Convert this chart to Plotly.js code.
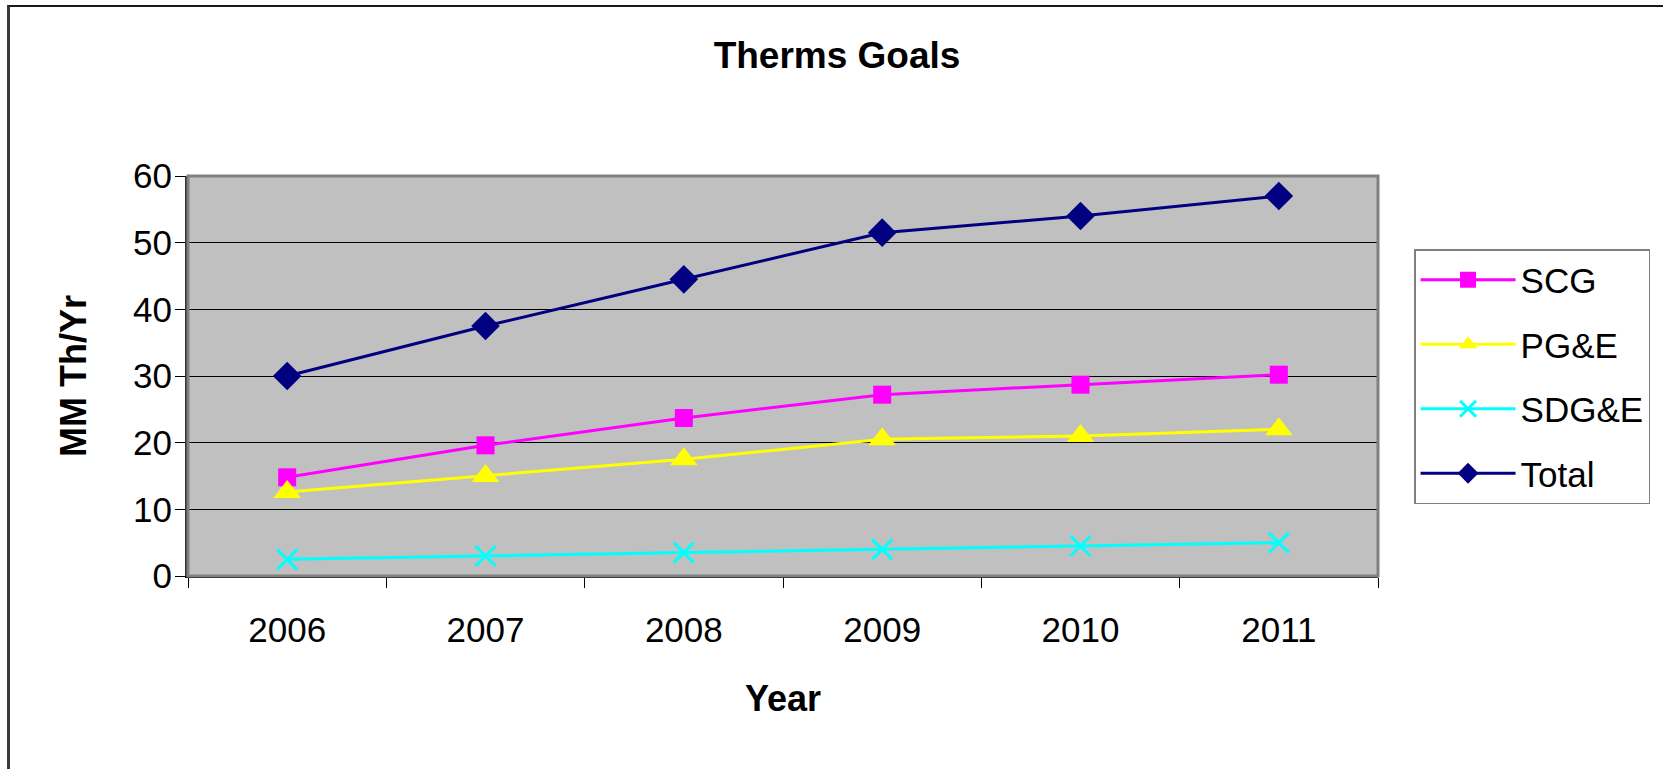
<!DOCTYPE html>
<html>
<head>
<meta charset="utf-8">
<script src="https://cdn.plot.ly/plotly-3.0.1.min.js"></script>
<style>
  html, body { margin: 0; padding: 0; background: #fff; }
  #wrap { position: relative; width: 1663px; height: 769px; overflow: hidden; }
  #chart { position: absolute; left: 0; top: 0; width: 1663px; height: 769px; }
  #frame { position: absolute; left: 7px; top: 5px; width: 1700px; height: 800px;
           border-top: 2px solid #1a1a1a; border-left: 3px solid #3a3a3a; pointer-events: none; }
</style>
</head>
<body>
<div id="wrap">
  <div id="chart"></div>
  <div id="frame"></div>
</div>
<script>
const years = ['2006', '2007', '2008', '2009', '2010', '2011'];
const scg   = [14.8, 19.6, 23.7, 27.2, 28.7, 30.2];
const pge   = [12.6, 15.0, 17.5, 20.5, 21.0, 22.0];
const sdge  = [2.5, 3.0, 3.5, 4.0, 4.5, 5.0];
const total = [30.0, 37.5, 44.5, 51.5, 54.0, 57.0];

const FONT = 'Liberation Sans, Arial, sans-serif';

const traces = [
  { name: 'SCG', x: years, y: scg, type: 'scatter', mode: 'lines+markers', legendgroup: 'a',
    line: { color: '#FF00FF', width: 3 }, marker: { symbol: 'square', size: 18, color: '#FF00FF' } },
  { name: 'PG&E', x: years, y: pge, type: 'scatter', mode: 'lines+markers', legendgroup: 'b',
    line: { color: '#FFFF00', width: 3 }, marker: { symbol: 'triangle-up', size: 24, color: '#FFFF00' } },
  { name: 'SDG&E', x: years, y: sdge, type: 'scatter', mode: 'lines+markers', legendgroup: 'c',
    line: { color: '#00FFFF', width: 3 }, marker: { symbol: 'x-thin', size: 20, color: '#00FFFF', line: { color: '#00FFFF', width: 3 } } },
  { name: 'Total', x: years, y: total, type: 'scatter', mode: 'lines+markers', legendgroup: 'd',
    line: { color: '#000080', width: 3 }, marker: { symbol: 'diamond', size: 22, color: '#000080' } }
];

const layout = {
  width: 1663, height: 769,
  margin: { l: 188, r: 285, t: 176, b: 193, autoexpand: false },
  paper_bgcolor: 'rgba(0,0,0,0)',
  plot_bgcolor: '#C0C0C0',
  font: { family: FONT, color: '#000', size: 35 },
  title: { text: '<b>Therms Goals</b>', font: { family: FONT, size: 37, color: '#000' },
           xref: 'paper', x: 0.5454, xanchor: 'center', yref: 'container', y: 0.928, yanchor: 'middle' },
  xaxis: {
    type: 'category', range: [-0.5, 5.5], tickson: 'boundaries', ticks: 'outside', ticklen: 10, tickcolor: '#000', tickwidth: 1,
    showgrid: false, showline: true, linecolor: '#000', linewidth: 2, automargin: false,
    ticklabelstandoff: 22,
    tickfont: { family: FONT, size: 35, color: '#000' },
    title: { text: '<b>Year</b>', font: { family: FONT, size: 36, color: '#000' }, standoff: 38 }
  },
  yaxis: {
    range: [0, 60], dtick: 10, tick0: 0, ticks: 'outside', ticklen: 10, tickcolor: '#000', tickwidth: 1,
    showgrid: true, gridcolor: '#000', gridwidth: 1, zeroline: false,
    showline: true, linecolor: '#333', linewidth: 3, automargin: false,
    ticklabelstandoff: -4,
    tickfont: { family: FONT, size: 35, color: '#000' },
    title: { text: '<b>MM Th/Yr</b>', font: { family: FONT, size: 36, color: '#000' }, standoff: 36 }
  },
  shapes: [
    { type: 'rect', xref: 'paper', yref: 'paper', x0: 0, x1: 1, y0: 0, y1: 1,
      line: { color: '#808080', width: 3 }, fillcolor: 'rgba(0,0,0,0)', layer: 'above' }
  ],
  legend: {
    x: 1.0303, xanchor: 'left', y: 0.8175, yanchor: 'top',
    bgcolor: '#FFFFFF', bordercolor: '#808080', borderwidth: 1.5,
    font: { family: FONT, size: 35, color: '#000' },
    itemwidth: 95, tracegroupgap: 16, traceorder: 'grouped'
  },
  showlegend: true
};

Plotly.newPlot('chart', traces, layout, { displayModeBar: false, staticPlot: true });
</script>
</body>
</html>
